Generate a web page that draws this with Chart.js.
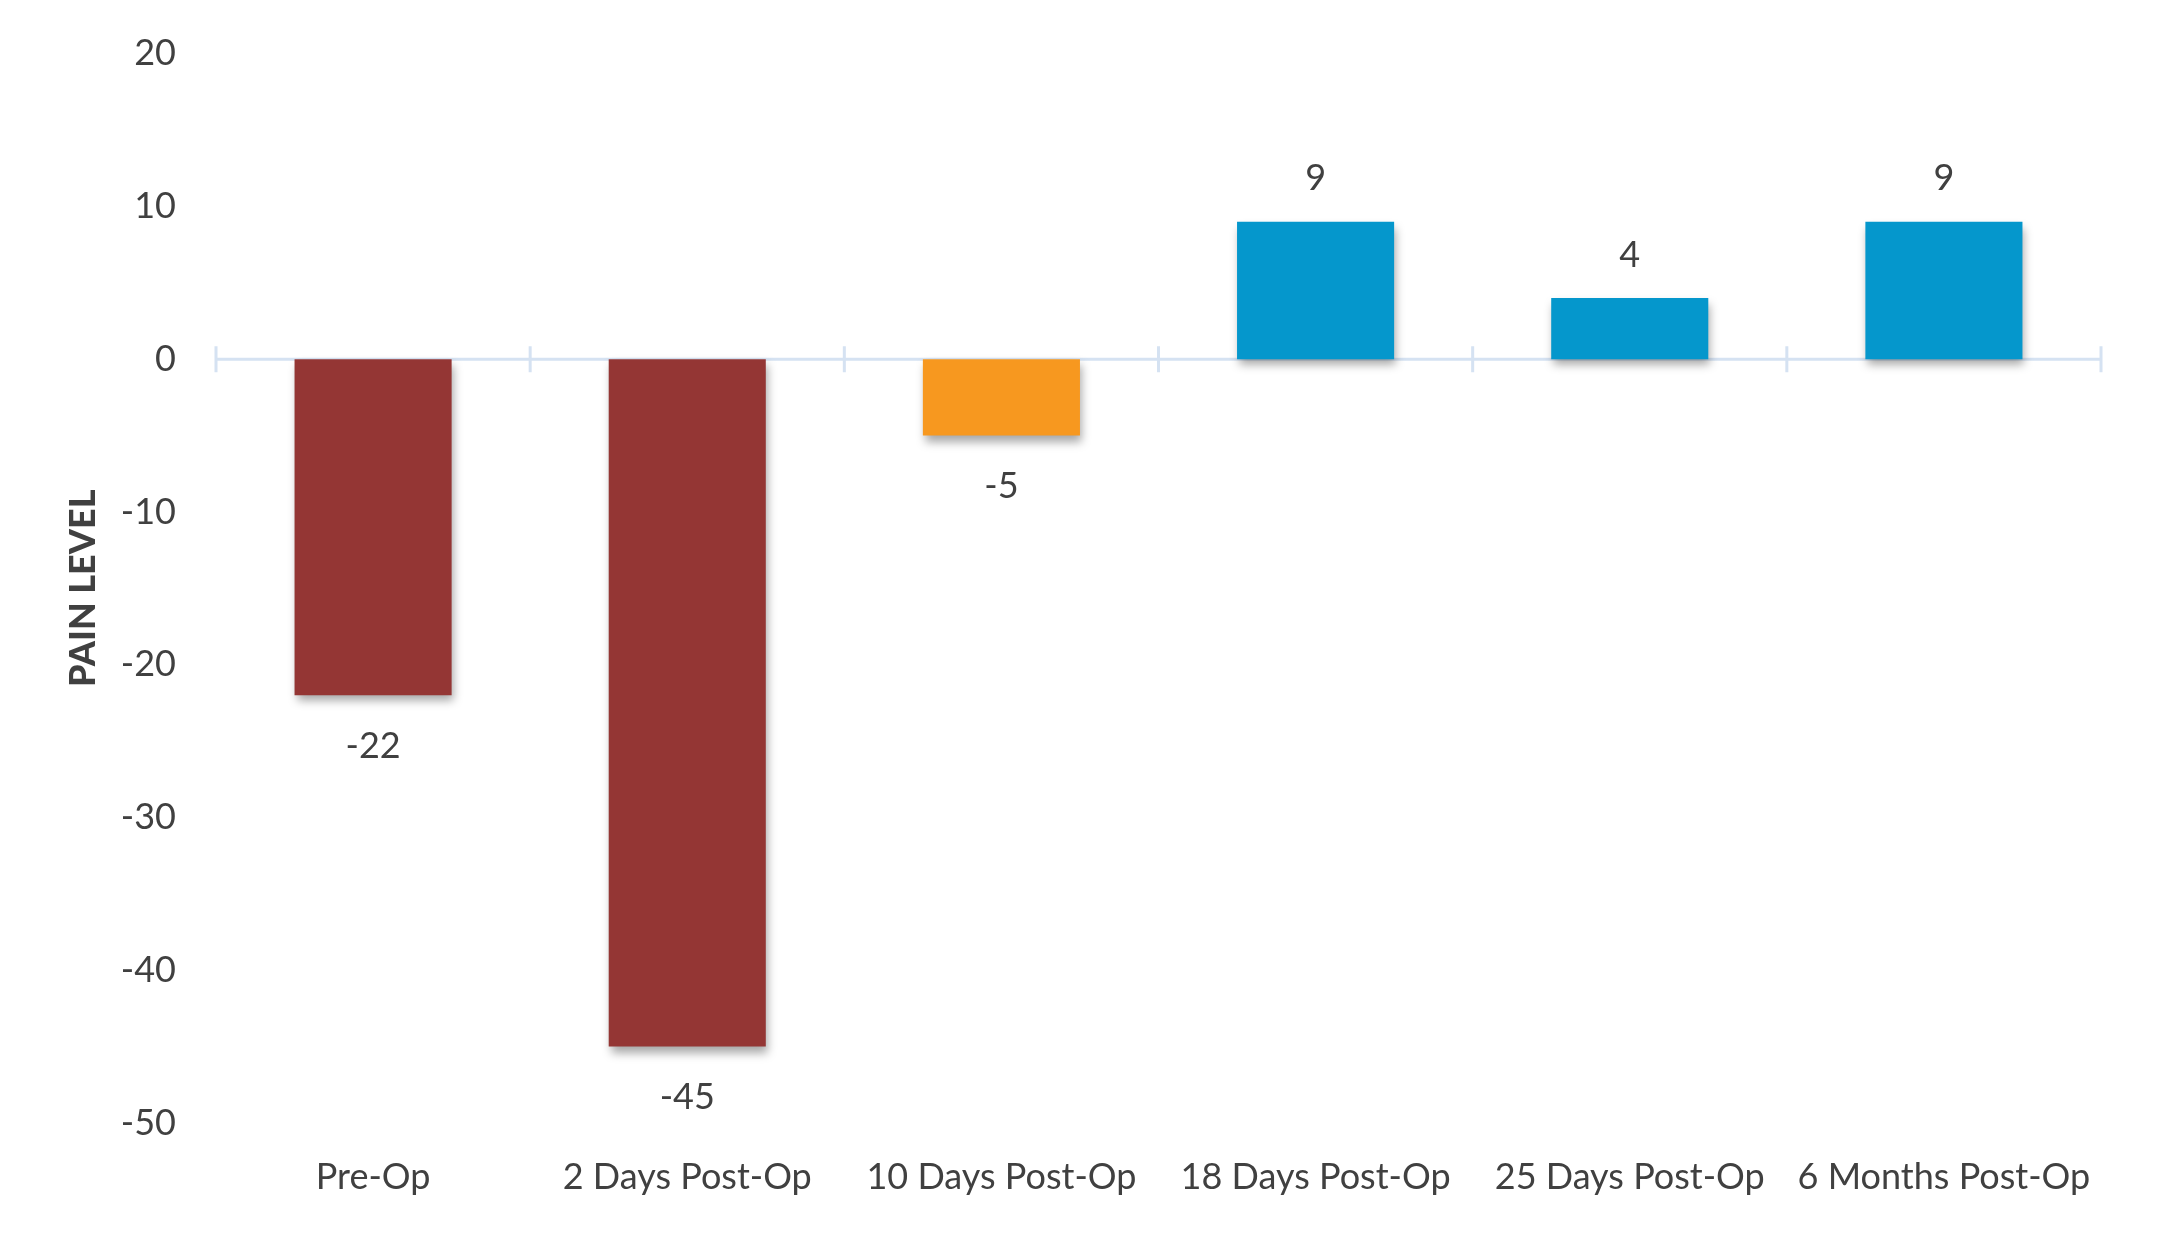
<!DOCTYPE html>
<html>
<head>
<meta charset="utf-8">
<script src="https://cdn.jsdelivr.net/npm/chart.js@4"></script>
<style>
  html, body { margin: 0; padding: 0; background: #fff; }
  #wrap { width: 2158px; height: 1237px; }
</style>
</head>
<body>
<div id="wrap"><canvas id="painChart" width="2158" height="1237"></canvas></div>
<script>
// chart data
var categories = ["Pre-Op", "2 Days Post-Op", "10 Days Post-Op", "18 Days Post-Op", "25 Days Post-Op", "6 Months Post-Op"];
var painValues = [-22, -45, -5, 9, 4, 9];
var barColors = ["#943634", "#943634", "#F7981F", "#0597CC", "#0597CC", "#0597CC"];
var yTicks = [20, 10, 0, -10, -20, -30, -40, -50];

var textColor = "#404040";
var axisColor = "#d5e2f2";
var fontFamily = "Lato, 'Open Sans', sans-serif";

// zero line + little tick marks between categories
var zeroAxis = {
  id: "zeroAxis",
  beforeDatasetsDraw: function(chart) {
    var ctx = chart.ctx;
    var x = chart.scales.x, y = chart.scales.y;
    var y0 = y.getPixelForValue(0);
    ctx.save();
    ctx.strokeStyle = axisColor;
    ctx.lineWidth = 3;
    ctx.beginPath();
    ctx.moveTo(x.left, y0);
    ctx.lineTo(x.right, y0);
    for (var i = 0; i <= categories.length; i++) {
      var px = x.left + (x.right - x.left) * i / categories.length;
      ctx.moveTo(px, y0 - 13);
      ctx.lineTo(px, y0 + 13);
    }
    ctx.stroke();
    ctx.restore();
    // shadow for the bars
    ctx.save();
    ctx.shadowColor = "rgba(0,0,0,0.35)";
    ctx.shadowBlur = 9;
    ctx.shadowOffsetX = 2;
    ctx.shadowOffsetY = 6;
  },
  afterDatasetsDraw: function(chart) {
    var ctx = chart.ctx;
    ctx.restore();
    // value labels
    var meta = chart.getDatasetMeta(0);
    ctx.save();
    ctx.fillStyle = textColor;
    ctx.font = "36px " + fontFamily;
    ctx.textAlign = "center";
    ctx.textBaseline = "middle";
    meta.data.forEach(function(bar, i) {
      var v = painValues[i];
      var yy = v >= 0 ? bar.y - 43 : bar.y + 51;
      ctx.fillText(String(v), bar.x, yy);
    });
    ctx.restore();
  }
};

var ctx = document.getElementById("painChart");
var painChart = new Chart(ctx, {
  type: "bar",
  data: {
    labels: categories,
    datasets: [
      {
        data: painValues,
        backgroundColor: barColors,
        borderWidth: 0,
        barPercentage: 0.5,
        categoryPercentage: 1.0
      }
    ]
  },
  options: {
    responsive: false,
    animation: false,
    devicePixelRatio: 1,
    layout: { padding: { top: 44, right: 57, bottom: 0, left: 0 } },
    plugins: {
      legend: { display: false },
      tooltip: { enabled: false }
    },
    scales: {
      x: {
        grid: { display: false },
        border: { display: false },
        ticks: {
          color: textColor,
          font: { family: fontFamily, size: 36 },
          padding: 25,
          maxRotation: 0,
          autoSkip: false
        },
        afterFit: function(scale) { scale.height = 114; }
      },
      y: {
        min: -50,
        max: 20,
        grid: { display: false },
        border: { display: false },
        afterBuildTicks: function(scale) {
          scale.ticks = yTicks.map(function(v) { return { value: v }; });
        },
        ticks: {
          color: textColor,
          font: { family: fontFamily, size: 36 },
          padding: 32
        },
        title: {
          display: true,
          text: "PAIN LEVEL",
          color: textColor,
          font: { family: fontFamily, size: 36, weight: "900" },
          padding: 62
        },
        afterFit: function(scale) { scale.width = 216; }
      }
    }
  },
  plugins: [zeroAxis]
});
</script>
</body>
</html>
